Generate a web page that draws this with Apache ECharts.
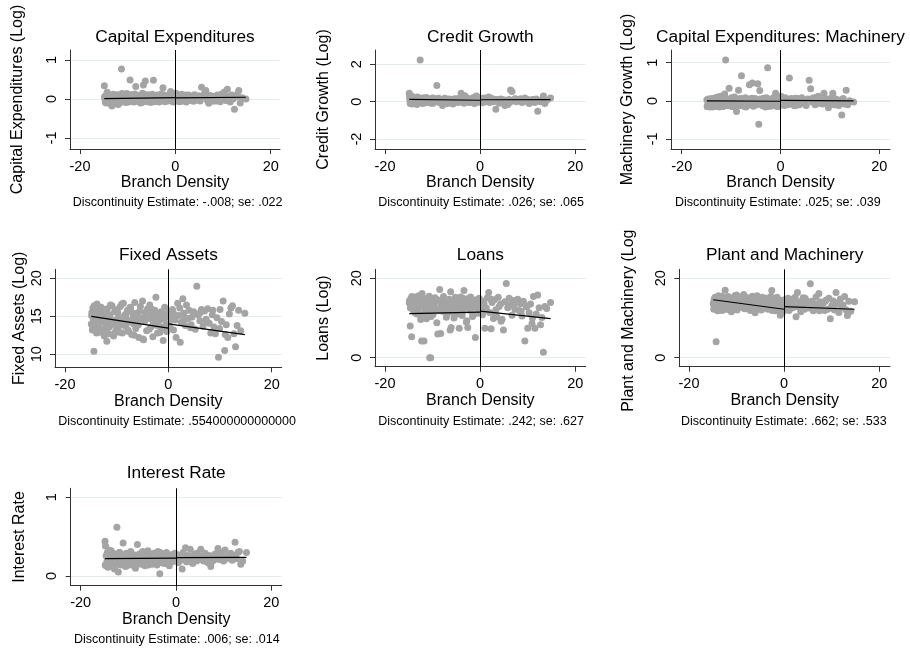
<!DOCTYPE html>
<html>
<head>
<meta charset="utf-8">
<script src="https://cdn.jsdelivr.net/npm/echarts@6/dist/echarts.min.js"></script>
<style>
  html, body { margin: 0; padding: 0; background: #ffffff; }
  #chart { width: 910px; height: 652px; }
</style>
</head>
<body>
<div id="chart"></div>
<script>
// Running variable: branch density relative to the cutoff (one entry per district)
const branchDensity = [
  -14.9,-14.8,-14.7,-14.6,-14.5,-14.4,-14.3,-14.2,-14.0,-13.9,
  -13.8,-13.6,-13.5,-13.3,-13.2,-13.0,-12.9,-12.7,-12.6,-12.4,
  -12.3,-12.1,-12.0,-11.8,-11.6,-11.5,-11.3,-11.1,-10.9,-10.8,
  -10.6,-10.4,-10.2,-10.0,-9.9,-9.7,-9.5,-9.3,-9.1,-8.9,
  -8.7,-8.5,-8.3,-8.1,-7.9,-7.7,-7.5,-7.3,-7.1,-6.9,
  -6.7,-6.5,-6.3,-6.1,-5.9,-5.7,-5.5,-5.2,-5.0,-4.8,
  -4.6,-4.4,-4.2,-4.0,-3.8,-3.6,-3.4,-3.2,-3.0,-2.8,
  -2.6,-2.4,-2.2,-2.0,-1.8,-1.6,-1.4,-1.2,-1.0,-0.8,
  -0.6,-0.4,-0.2,
  0.1,0.3,0.5,0.8,1.0,1.3,1.5,1.8,2.0,2.3,
  2.5,2.8,3.0,3.3,3.5,3.8,4.0,4.3,4.6,4.9,
  5.2,5.5,5.8,6.1,6.4,6.7,7.0,7.3,7.6,7.9,
  8.2,8.5,8.8,9.1,9.4,9.7,10.0,10.3,10.6,10.9,
  11.2,11.5,11.8,12.1,12.4,12.7,13.0,13.3,13.6,14.0,
  14.8,
  -14.85,-14.65,-14.35,-14.1,-13.7,-13.4,-13.1,-12.8,-12.5,-12.2,
  -11.9,-11.7,-11.4,-11.2,-10.7,-10.3,-9.8,-9.4,-9.0,-8.6,
  -8.2,-7.8,-7.4,-7.0,-6.6,-6.2,-5.8,-5.4,-4.9,-4.5,
  -4.1,-3.7,-3.3,-2.9,-2.5,-2.1,-1.5,-1.1,-0.7,-0.3,
  0.2,1.1,2.2,3.1,4.4,6.2,7.4,8.6,9.9,11.0
];

const capexLog = [
  0.34,0.02,-0.05,0.08,-0.1,0.05,0.17,-0.03,0.1,-0.08,
  0.04,-0.12,0.07,-0.18,0.0,0.12,-0.06,0.05,-0.1,0.09,
  -0.02,0.11,-0.14,0.06,0.0,-0.07,0.77,0.1,-0.04,0.03,
  0.08,-0.09,0.14,-0.03,0.05,0.0,0.49,-0.06,0.1,0.02,
  -0.08,0.13,0.32,0.04,-0.05,0.09,0.0,-0.1,0.07,0.15,
  0.36,-0.04,0.46,0.06,-0.07,0.11,0.01,-0.09,0.05,0.12,
  0.48,-0.03,0.08,-0.06,0.1,0.02,-0.08,0.06,0.13,-0.02,
  0.29,0.04,-0.07,0.09,0.0,-0.05,0.07,0.12,0.19,-0.04,
  0.06,-0.08,0.1,
  0.15,-0.03,0.08,-0.07,0.04,0.12,-0.05,0.02,0.09,-0.08,
  0.05,0.1,-0.04,0.07,0.0,-0.06,0.11,0.03,-0.02,0.08,
  -0.05,0.3,0.06,0.14,0.22,-0.03,-0.11,0.09,0.01,-0.06,
  0.07,-0.02,0.1,0.04,-0.07,0.13,0.02,0.18,-0.04,0.25,
  0.06,-0.08,0.1,0.0,-0.26,0.05,0.12,0.22,-0.1,0.03,
  0.0,
  0.06,-0.09,0.12,0.0,-0.06,0.1,-0.13,0.04,0.08,-0.05,
  0.02,-0.1,0.09,0.14,-0.03,0.06,-0.08,0.11,0.0,0.05,
  -0.06,0.08,0.03,-0.09,0.12,0.0,0.07,-0.04,0.1,-0.07,
  0.04,0.09,-0.05,0.02,0.11,-0.03,0.06,0.0,-0.06,0.08,
  0.04,-0.06,0.1,0.02,-0.03,0.08,0.05,-0.05,0.11,0.01
];

const creditGrowthLog = [
  0.45,0.1,-0.08,0.22,0.02,0.3,-0.12,0.15,0.05,-0.05,
  0.2,0.0,0.12,-0.15,0.25,0.08,-0.03,0.18,2.23,0.1,
  0.04,-0.1,0.2,0.07,0.14,-0.06,0.22,0.0,0.1,0.16,
  -0.04,0.12,0.05,0.2,-0.08,0.09,0.15,0.02,0.86,0.1,
  0.18,-0.05,0.08,0.12,-0.2,0.04,0.15,0.0,0.1,-0.1,
  0.06,0.14,-0.02,0.1,0.05,-0.12,0.12,0.02,0.08,0.15,
  -0.04,0.1,0.2,0.45,0.05,0.12,-0.08,0.32,0.02,0.1,
  0.18,-0.05,0.08,0.14,0.0,0.1,0.22,-0.1,0.06,0.3,
  0.12,-0.03,0.15,
  0.05,0.18,-0.06,0.1,0.2,0.02,0.12,0.25,-0.04,0.08,
  0.15,0.0,0.1,-0.41,0.12,0.05,-0.08,0.14,0.03,0.1,
  -0.2,0.08,-0.15,0.12,0.63,0.55,0.05,0.14,0.0,0.1,
  0.06,0.15,-0.04,0.1,0.2,0.02,0.12,-0.1,0.08,0.04,
  0.1,-0.05,0.14,-0.52,0.06,0.0,0.12,0.3,-0.1,0.08,
  0.2,
  0.3,-0.1,0.15,0.05,0.22,-0.02,0.12,0.08,0.18,-0.06,
  0.1,0.2,0.0,0.14,0.06,-0.08,0.16,0.04,0.12,-0.03,
  0.1,0.05,0.18,-0.06,0.12,0.02,0.08,0.15,-0.02,0.1,
  0.06,0.14,0.0,0.2,0.08,-0.05,0.12,0.04,0.28,0.1,
  0.12,0.0,0.2,0.06,0.1,-0.05,0.15,0.08,0.02,0.12
];

const machineryGrowthLog = [
  0.03,-0.15,-0.08,0.05,-0.12,0.0,-0.16,0.04,-0.06,-0.14,
  0.06,-0.1,-0.02,-0.15,0.08,-0.05,-0.12,0.1,0.02,-0.16,
  -0.04,0.12,-0.1,0.04,-0.15,0.0,0.18,1.07,-0.08,0.05,
  -0.13,0.33,0.02,-0.06,0.08,-0.15,0.0,0.1,-0.1,-0.28,
  0.04,0.28,-0.12,0.06,0.66,-0.07,0.02,-0.15,0.08,-0.04,
  -0.12,0.05,0.42,-0.08,0.0,0.47,-0.14,0.06,-0.03,-0.1,
  0.45,-0.61,0.27,-0.06,0.03,-0.13,0.07,-0.02,-0.16,0.04,
  0.87,-0.09,0.05,-0.14,0.02,-0.06,0.08,-0.12,0.2,-0.03,
  0.1,-0.15,0.0,
  0.12,-0.06,0.04,-0.12,0.08,0.0,-0.1,0.6,0.05,-0.08,
  0.02,-0.13,0.07,-0.04,0.06,-0.1,0.03,0.08,-0.06,0.0,
  -0.12,0.05,0.54,0.32,-0.03,0.08,-0.1,0.04,0.12,-0.06,
  0.02,-0.08,0.2,0.06,-0.04,-0.18,0.03,0.08,0.2,-0.1,
  0.05,-0.06,-0.12,0.02,-0.37,0.06,-0.08,0.28,-0.1,0.0,
  -0.03,
  -0.15,0.02,-0.1,0.05,-0.16,-0.04,0.06,-0.12,0.0,-0.08,
  0.04,-0.14,-0.02,0.08,-0.1,0.0,-0.15,0.05,-0.06,0.02,
  -0.12,0.06,-0.05,-0.16,0.03,-0.09,0.07,-0.13,0.01,-0.07,
  0.05,-0.11,-0.02,0.08,-0.14,0.0,-0.09,0.04,-0.15,0.06,
  0.02,-0.08,0.06,-0.12,0.0,0.05,-0.06,0.03,-0.1,0.04
];

const fixedAssetsLog = [
  14.0,15.5,13.2,16.1,14.6,10.4,13.8,15.9,14.4,12.8,
  16.6,14.9,13.5,15.7,12.9,16.2,14.2,13.1,15.3,12.4,
  15.8,14.1,13.4,16.0,14.7,12.7,15.2,13.9,16.4,14.5,
  12.4,15.6,14.0,13.3,15.9,14.8,12.9,16.3,14.3,12.8,
  16.7,15.1,13.7,14.6,15.8,13.0,14.2,16.1,12.6,15.4,
  14.0,16.8,13.4,15.0,14.5,12.2,15.7,14.8,17.0,11.9,
  14.3,15.5,13.1,16.0,14.7,16.5,13.6,15.2,12.3,14.9,
  15.8,17.5,13.8,15.1,14.4,12.9,15.6,13.5,11.8,14.6,
  15.3,13.9,15.0,
  15.5,13.6,14.8,15.9,13.2,14.5,12.2,16.7,15.1,11.6,
  14.2,17.3,15.4,13.8,16.5,14.7,15.8,13.5,14.9,15.6,
  13.3,18.95,15.2,14.4,15.9,13.7,15.7,14.6,16.0,14.1,
  12.8,15.2,13.6,12.7,14.8,9.6,15.9,14.3,17.0,10.5,
  13.9,12.2,15.3,16.1,16.4,12.7,11.0,13.8,15.8,13.1,
  15.4,
  15.1,13.6,16.4,14.3,15.6,13.0,16.0,14.8,13.3,15.9,
  11.7,15.0,13.6,16.5,14.1,12.9,15.5,13.8,16.6,14.4,
  15.3,13.2,16.2,14.6,12.5,15.4,13.9,16.3,12.0,14.7,
  15.7,13.3,16.0,14.2,15.4,12.8,14.9,13.6,16.2,13.0,
  14.0,15.3,16.1,14.6,13.9,15.5,14.3,15.8,13.4,12.6
];

const loansLog = [
  13.8,14.5,8.0,12.6,15.0,5.3,13.2,14.1,11.8,14.8,
  12.9,15.3,13.6,11.0,14.2,12.4,15.6,13.4,10.8,14.0,
  4.2,13.1,15.0,4.2,12.0,14.4,9.8,13.7,11.5,14.6,
  0.0,0.0,12.6,14.9,10.9,13.3,15.1,12.2,8.8,6.0,
  14.3,17.2,6.1,13.0,11.7,15.4,12.8,14.1,10.2,13.5,
  11.3,14.7,7.0,7.6,13.9,12.1,10.0,15.2,12.9,11.0,
  14.5,7.4,12.3,13.8,10.6,15.0,16.9,12.7,14.2,9.3,
  7.6,13.6,11.9,15.3,12.4,10.4,14.0,12.8,5.1,14.6,
  11.2,13.4,15.0,
  12.0,14.3,10.8,13.7,7.4,12.5,15.1,16.4,11.4,7.3,
  13.9,9.9,14.6,12.1,10.3,15.2,12.9,13.5,9.7,7.0,
  14.1,18.7,12.6,15.0,13.3,10.7,14.4,12.2,13.8,14.7,
  11.9,13.6,10.5,14.2,4.2,12.8,7.4,11.3,13.5,8.6,
  15.4,7.4,11.0,15.8,12.6,8.3,10.1,1.4,12.9,12.4,
  13.9,
  14.2,12.5,15.4,13.0,11.4,14.7,12.1,15.2,9.6,16.2,
  13.5,11.2,14.8,12.7,15.5,10.4,13.9,12.3,14.6,11.8,
  13.2,15.0,11.6,14.4,12.5,16.6,13.7,10.9,14.1,12.0,
  15.3,11.5,13.8,9.0,14.9,12.6,10.7,14.3,13.1,11.9,
  13.6,12.0,14.8,11.1,9.2,13.2,14.0,11.7,13.0,10.0
];

const plantMachineryLog = [
  13.5,12.2,14.8,13.0,15.2,12.6,4.0,14.1,11.8,13.7,
  15.6,12.9,14.3,13.4,11.9,15.0,13.2,12.5,14.6,17.0,
  12.8,14.0,13.3,15.4,12.1,14.5,13.0,11.6,15.1,13.8,
  12.4,14.7,13.6,15.8,12.0,14.2,13.1,15.3,12.7,14.4,
  13.5,15.9,12.3,14.0,13.2,15.1,12.6,14.8,11.9,13.7,
  15.5,12.8,14.3,11.3,13.9,15.6,12.4,14.6,13.1,12.0,
  15.2,13.4,14.1,12.5,15.0,13.7,12.2,14.5,13.0,15.4,
  16.9,12.7,14.2,13.3,11.8,14.8,12.9,13.6,12.1,10.7,
  14.0,11.4,12.6,
  14.6,12.3,13.5,15.0,11.9,13.8,14.7,12.6,13.2,15.2,
  10.3,16.4,12.8,14.1,11.6,13.4,15.1,12.2,14.4,13.0,
  12.5,18.6,14.2,11.8,13.6,15.3,12.9,16.2,14.0,12.4,
  13.7,11.9,14.5,12.2,15.0,9.8,13.1,14.3,12.0,16.4,
  13.5,11.4,14.8,12.7,13.3,15.4,12.1,10.6,14.2,11.7,
  14.1,
  13.9,12.4,15.0,12.9,14.4,13.2,15.5,12.0,14.1,13.6,
  12.5,15.2,13.4,14.6,12.2,15.7,13.0,14.3,12.8,15.1,
  13.8,12.3,14.9,13.1,15.3,12.6,14.0,13.5,12.2,14.7,
  13.2,15.0,12.4,14.3,11.9,13.7,15.2,12.8,14.5,11.6,
  13.4,12.2,14.6,12.9,15.0,13.1,11.8,14.2,12.5,13.8
];

const interestRate = [
  0.44,0.38,0.13,0.25,0.18,0.3,0.11,0.22,0.27,0.15,
  0.2,0.32,0.12,0.24,0.17,0.28,0.09,0.21,0.26,0.62,
  0.16,0.05,0.23,0.3,0.14,0.2,0.27,0.42,0.18,0.25,
  0.12,0.29,0.21,0.16,0.26,0.19,0.31,0.14,0.23,0.27,
  0.2,0.1,0.25,0.4,0.17,0.28,0.22,0.15,0.3,0.19,
  0.24,0.13,0.27,0.2,0.32,0.17,0.23,0.26,0.15,0.21,
  0.29,0.18,0.24,0.14,0.31,0.2,0.03,0.26,0.17,0.23,
  0.28,0.16,0.21,0.3,0.19,0.25,0.13,0.22,0.27,0.18,
  0.24,0.2,0.29,
  0.22,0.27,0.17,0.25,0.2,0.09,0.3,0.23,0.36,0.18,
  0.26,0.2,0.34,0.24,0.16,0.28,0.22,0.19,0.27,0.21,
  0.34,0.25,0.19,0.29,0.22,0.17,0.26,0.12,0.24,0.2,
  0.28,0.23,0.35,0.21,0.3,0.25,0.19,0.33,0.22,0.27,
  0.24,0.29,0.2,0.26,0.43,0.22,0.3,0.31,0.15,0.19,
  0.3,
  0.14,0.26,0.2,0.33,0.17,0.24,0.11,0.28,0.19,0.22,
  0.3,0.15,0.25,0.2,0.27,0.13,0.22,0.29,0.18,0.24,
  0.21,0.27,0.16,0.31,0.2,0.25,0.14,0.23,0.28,0.19,
  0.26,0.2,0.3,0.17,0.23,0.27,0.15,0.25,0.21,0.28,
  0.2,0.26,0.18,0.24,0.29,0.22,0.17,0.27,0.23,0.25
];

// Local linear fits on each side of the cutoff: [value at left end, value at cutoff]
const fitBelowCutoff = [[0.01,0.035],[0.12,0.075],[0.0,-0.01],[15.0,13.45],[11.1,11.5],[14.6,12.2],[0.22,0.228]];
// [value at cutoff, value at right end]
const fitAboveCutoff = [[0.027,0.045],[0.101,0.11],[0.015,0.0],[14.0,12.6],[11.74,9.85],[12.86,12.2],[0.234,0.238]];
const fitSpan = [-14.9, 0, 14.8];

const panelTitles = [
  'Capital Expenditures', 'Credit Growth', 'Capital Expenditures: Machinery',
  'Fixed Assets', 'Loans', 'Plant and Machinery', 'Interest Rate'
];
const yAxisTitles = [
  'Capital Expenditures (Log)', 'Credit Growth (Log)', 'Machinery Growth (Log)',
  'Fixed Assets (Log)', 'Loans (Log)', 'Plant and Machinery (Log)', 'Interest Rate'
];
const estimateNotes = [
  'Discontinuity Estimate: -.008; se: .022',
  'Discontinuity Estimate: .026; se: .065',
  'Discontinuity Estimate: .025; se: .039',
  'Discontinuity Estimate: .554000000000000',
  'Discontinuity Estimate: .242; se: .627',
  'Discontinuity Estimate: .662; se: .533',
  'Discontinuity Estimate: .006; se: .014'
];
const yTickValues = [[-1,0,1],[-2,0,2],[-1,0,1],[10,15,20],[0,20],[0,20],[0,1]];
const xTickValues = [-20, 0, 20];
const xAxisTitle = 'Branch Density';

const outcomes = [capexLog, creditGrowthLog, machineryGrowthLog, fixedAssetsLog, loansLog, plantMachineryLog, interestRate];

// Panel geometry (pixels) and axis extents
const panels = [
  { left: 70,    top: 50,    width: 210,   height: 99,   xMin: -22.10, xMax: 21.95, yMin: -1.282, yMax: 1.256, nameGap: 44, titleY: 37,    noteX: 72.7,  noteY: 203 },
  { left: 375,   top: 50,    width: 210.7, height: 99,   xMin: -22.10, xMax: 22.19, yMin: -2.535, yMax: 2.766, nameGap: 43, titleY: 37,    noteX: 378.3, noteY: 203 },
  { left: 671,   top: 50,    width: 219,   height: 99,   xMin: -22.17, xMax: 22.17, yMin: -1.262, yMax: 1.333, nameGap: 35, titleY: 37,    noteX: 675,   noteY: 203 },
  { left: 55,    top: 269.3, width: 226.7, height: 98,   xMin: -21.93, xMax: 21.93, yMin: 8.29,   yMax: 21.18, nameGap: 27, titleY: 255,   noteX: 58.3,  noteY: 421.7 },
  { left: 375,   top: 269.3, width: 210.7, height: 97.4, xMin: -22.10, xMax: 22.19, yMin: -2.27,  yMax: 22.27, nameGap: 43, titleY: 255,   noteX: 378.3, noteY: 421.7 },
  { left: 679.3, top: 269.3, width: 210.7, height: 97.4, xMin: -22.04, xMax: 22.25, yMin: -2.27,  yMax: 22.27, nameGap: 43, titleY: 255,   noteX: 681,   noteY: 421.7 },
  { left: 70.7,  top: 488.3, width: 211,   height: 97.4, xMin: -22.10, xMax: 22.19, yMin: -0.123, yMax: 1.114, nameGap: 43, titleY: 473.3, noteX: 74,    noteY: 640 }
];

const FONT = '"Liberation Sans", Arial, Helvetica, sans-serif';
const AXIS_COLOR = '#333333';
const POINT_COLOR = '#a4a4a4';
const GRID_COLOR = '#e3edf0';

const grid = [], xAxis = [], yAxis = [], series = [], graphic = [];

panels.forEach((p, i) => {
  grid.push({
    left: p.left, top: p.top, width: p.width, height: p.height,
    containLabel: false, outerBoundsMode: 'none', show: false
  });

  xAxis.push({
    gridIndex: i, type: 'value', position: 'bottom',
    min: p.xMin, max: p.xMax,
    axisLine: { show: true, onZero: false, lineStyle: { color: AXIS_COLOR, width: 1 } },
    axisTick: { show: true, inside: false, length: 5, customValues: xTickValues, lineStyle: { color: AXIS_COLOR, width: 1 } },
    axisLabel: { customValues: xTickValues, margin: 10, color: '#000', fontSize: 14.5, fontFamily: FONT },
    splitLine: { show: false },
    name: xAxisTitle, nameLocation: 'middle', nameGap: 26, nameMoveOverlap: false,
    nameTextStyle: { color: '#000', fontSize: 16, fontFamily: FONT }
  });

  yAxis.push({
    gridIndex: i, type: 'value', position: 'left',
    min: p.yMin, max: p.yMax,
    axisLine: { show: true, onZero: false, lineStyle: { color: AXIS_COLOR, width: 1 } },
    axisTick: { show: true, inside: false, length: 5, customValues: yTickValues[i], lineStyle: { color: AXIS_COLOR, width: 1 } },
    axisLabel: { customValues: yTickValues[i], rotate: 90, margin: 11, color: '#000', fontSize: 14.5, fontFamily: FONT },
    splitLine: { show: true, lineStyle: { color: GRID_COLOR, width: 1 } },
    name: yAxisTitles[i], nameLocation: 'middle', nameGap: p.nameGap, nameRotate: 90, nameMoveOverlap: false,
    nameTextStyle: { color: '#000', fontSize: 16, fontFamily: FONT }
  });

  const ys = outcomes[i];
  series.push({
    type: 'scatter', xAxisIndex: i, yAxisIndex: i,
    data: branchDensity.map((x, k) => [x, ys[k]]).filter(d => d[1] !== undefined),
    symbol: 'circle', symbolSize: 7,
    itemStyle: { color: POINT_COLOR, opacity: 1 },
    z: 2, silent: true,
    markLine: {
      silent: true, symbol: ['none', 'none'], animation: false,
      label: { show: false },
      lineStyle: { color: '#000', type: 'solid', width: 1 },
      data: [{ xAxis: 0 }]
    }
  });

  series.push({
    type: 'line', xAxisIndex: i, yAxisIndex: i,
    data: [[fitSpan[0], fitBelowCutoff[i][0]], [fitSpan[1], fitBelowCutoff[i][1]]],
    showSymbol: false, symbol: 'none',
    lineStyle: { color: '#000', width: 1.2 }, z: 4, silent: true
  });
  series.push({
    type: 'line', xAxisIndex: i, yAxisIndex: i,
    data: [[fitSpan[1], fitAboveCutoff[i][0]], [fitSpan[2], fitAboveCutoff[i][1]]],
    showSymbol: false, symbol: 'none',
    lineStyle: { color: '#000', width: 1.2 }, z: 4, silent: true
  });

  graphic.push({
    type: 'text', x: p.left + p.width / 2, y: p.titleY, z: 50,
    style: { text: panelTitles[i], fill: '#000', font: '17.3px ' + FONT, align: 'center', verticalAlign: 'middle' }
  });
  graphic.push({
    type: 'text', x: p.noteX, y: p.noteY, z: 50,
    style: { text: estimateNotes[i], fill: '#000', font: '12.5px ' + FONT, align: 'left', verticalAlign: 'middle' }
  });
});

// Each panel is clipped to its own cell: hide overflow past the cell edges
graphic.push({ type: 'rect', shape: { x: 296.5, y: 410, width: 40, height: 24 }, style: { fill: '#ffffff' }, z: 100 });
graphic.push({ type: 'rect', shape: { x: 612, y: 212, width: 32, height: 17.5 }, style: { fill: '#ffffff' }, z: 100 });

const chart = echarts.init(document.getElementById('chart'), null, { renderer: 'canvas' });
chart.setOption({
  backgroundColor: '#ffffff',
  animation: false,
  textStyle: { fontFamily: FONT },
  grid, xAxis, yAxis, series, graphic
});
</script>
</body>
</html>
